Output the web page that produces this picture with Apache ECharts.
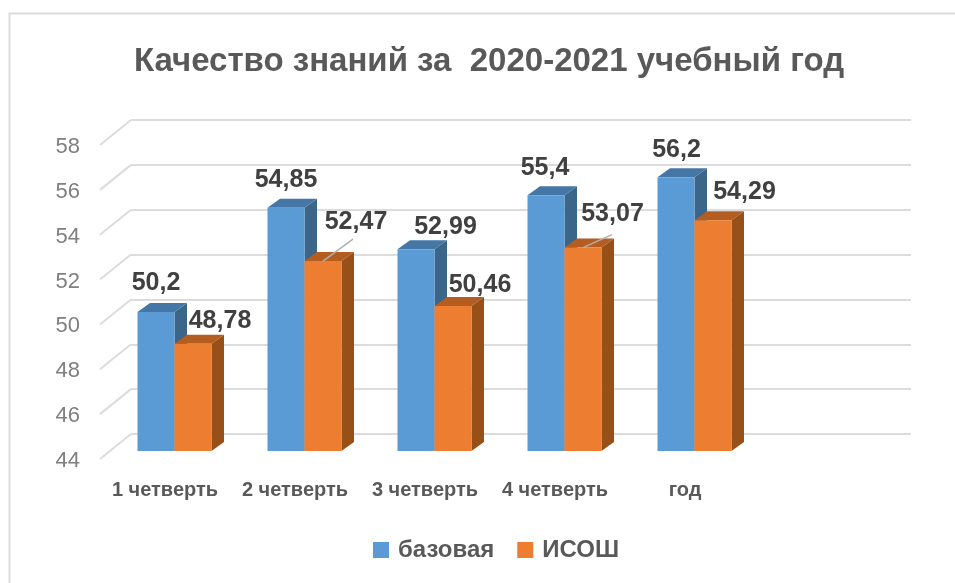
<!DOCTYPE html>
<html>
<head>
<meta charset="utf-8">
<title>Качество знаний</title>
<style>
html, body { margin: 0; padding: 0; background: #fff; }
#chart { width: 955px; height: 583px; }
</style>
<script src="https://cdn.jsdelivr.net/npm/echarts@6/dist/echarts.min.js"></script>
</head>
<body>
<div id="chart"></div>
<script>
var categories = ['1 четверть', '2 четверть', '3 четверть', '4 четверть', 'год', ''];
var baseValues = [50.2, 54.85, 52.99, 55.4, 56.2];
var isoshValues = [48.78, 52.47, 50.46, 53.07, 54.29];
var yTicks = [44, 46, 48, 50, 52, 54, 56, 58];

var FONT = '"Liberation Sans", Arial, sans-serif';
var TEXT_COLOR = '#595959';
var GRID_COLOR = '#dcdcdc';

// сдвиг плоскости столбцов относительно задней стенки
var BAR_SHIFT = [-21.5, 17];
// сдвиг передней плоскости относительно задней стенки
var WALL_SHIFT = [-31, 25];
// глубина столбца
var DEPTH = [12.5, -9];
var BAR_W = 37;

// положение подписей относительно верха столбца
var baseLabelOffset = [[0, -29], [0, -28], [29.5, -22], [-1, -27], [0.5, -27]];
var isoshLabelOffset = [[27, -23], [33, -39], [27, -21], [29.5, -33], [31.5, -28]];
// выноски у двух подписей
var isoshLeaders = { 1: [30, -22], 3: [29, -13] };

function toData(values) {
	var res = [];
	for (var i = 0; i < values.length; i++) {
		res.push([i, values[i]]);
	}
	return res;
}

function barRender(colors, dir, offsets, leaders) {
	return function (params, api) {
		var i = api.value(0);
		var top = api.coord([i, api.value(1)]);
		var bottom = api.coord([i, yTicks[0]]);
		var x0 = top[0] + BAR_SHIFT[0] + (dir < 0 ? -BAR_W : 0);
		var x1 = x0 + BAR_W;
		var y0 = top[1] + BAR_SHIFT[1];
		var y1 = bottom[1] + BAR_SHIFT[1];
		var dx = DEPTH[0], dy = DEPTH[1];
		var cx = (x0 + x1) / 2;
		var children = [
			{ type: 'polygon', shape: { points: [[x1, y0], [x1 + dx, y0 + dy], [x1 + dx, y1 + dy], [x1, y1]] }, style: { fill: colors[2] } },
			{ type: 'polygon', shape: { points: [[x0, y0], [x0 + dx, y0 + dy], [x1 + dx, y0 + dy], [x1, y0]] }, style: { fill: colors[1] } },
			{ type: 'rect', shape: { x: x0, y: y0, width: BAR_W, height: y1 - y0 }, style: { fill: colors[0] } }
		];
		if (leaders && leaders[i]) {
			children.push({
				type: 'line',
				shape: { x1: cx, y1: y0, x2: cx + leaders[i][0], y2: y0 + leaders[i][1] },
				style: { stroke: '#b0b0b0', lineWidth: 1.5 },
				z2: 5
			});
		}
		children.push({
			type: 'text',
			z2: 10,
			style: {
				text: String(api.value(1)).replace('.', ','),
				x: cx + offsets[i][0],
				y: y0 + offsets[i][1],
				align: 'center',
				verticalAlign: 'middle',
				fill: '#404040',
				fontFamily: FONT,
				fontWeight: 'bold',
				fontSize: 25
			}
		});
		return { type: 'group', children: children };
	};
}

// боковые линии пола и стенки
function wallRender(params, api) {
	var x = params.coordSys.x;
	var y = api.coord([0, api.value(1)])[1];
	return {
		type: 'line',
		shape: { x1: x, y1: y, x2: x + WALL_SHIFT[0], y2: y + WALL_SHIFT[1] },
		style: { stroke: GRID_COLOR, lineWidth: 2 }
	};
}

var myChart = echarts.init(document.getElementById('chart'), null, { renderer: 'canvas' });
var option = {
	animation: false,
	backgroundColor: '#ffffff',
	title: {
		text: 'Качество знаний за  2020-2021 учебный год',
		left: 484,
		top: 40,
		textAlign: 'center',
		textStyle: { color: TEXT_COLOR, fontFamily: FONT, fontWeight: 'bold', fontSize: 33 }
	},
	legend: {
		data: ['базовая', 'ИСОШ'],
		left: 368,
		top: 533,
		icon: 'rect',
		itemWidth: 16,
		itemHeight: 16,
		itemGap: 23,
		textStyle: { color: TEXT_COLOR, fontFamily: FONT, fontWeight: 'bold', fontSize: 24, padding: [0, 0, 0, 4] }
	},
	// 0 - задняя стенка со столбцами, 1 - передняя плоскость с подписями осей
	grid: [
		{ left: 131, right: 44, top: 120, bottom: 149 },
		{ left: 100, right: 75, top: 147, bottom: 122 }
	],
	xAxis: [
		{
			type: 'category',
			gridIndex: 0,
			data: categories,
			axisLine: { show: false },
			axisTick: { show: false },
			axisLabel: { show: false }
		},
		{
			type: 'category',
			gridIndex: 1,
			data: categories,
			axisLine: { show: false },
			axisTick: { show: false },
			axisLabel: {
				interval: 0,
				margin: 19,
				color: TEXT_COLOR,
				fontFamily: FONT,
				fontWeight: 'bold',
				fontSize: 20
			}
		}
	],
	yAxis: [
		{
			type: 'value',
			gridIndex: 0,
			min: 44,
			max: 58,
			interval: 2,
			axisLine: { show: false },
			axisTick: { show: false },
			axisLabel: { show: false },
			splitLine: { lineStyle: { color: GRID_COLOR, width: 2 } }
		},
		{
			type: 'value',
			gridIndex: 1,
			min: 44,
			max: 58,
			interval: 2,
			axisLine: { show: false },
			axisTick: { show: false },
			splitLine: { show: false },
			axisLabel: {
				margin: 20,
				color: '#7f7f7f',
				fontFamily: FONT,
				fontSize: 22
			}
		}
	],
	graphic: [
		{ type: 'polyline', silent: true, shape: { points: [[9.5, 583], [9.5, 13.5], [955, 13.5]] }, style: { fill: null, stroke: '#dcdcdc', lineWidth: 2 } }
	],
	series: [
		{
			type: 'custom',
			name: 'стенка',
			data: yTicks.map(function (t) { return [0, t]; }),
			encode: { x: 0, y: 1 },
			silent: true,
			renderItem: wallRender
		},
		{
			type: 'custom',
			name: 'базовая',
			data: toData(baseValues),
			encode: { x: 0, y: 1 },
			itemStyle: { color: '#5b9bd5' },
			renderItem: barRender(['#5b9bd5', '#4477a6', '#3b6689'], -1, baseLabelOffset)
		},
		{
			type: 'custom',
			name: 'ИСОШ',
			data: toData(isoshValues),
			encode: { x: 0, y: 1 },
			itemStyle: { color: '#ed7d31' },
			renderItem: barRender(['#ed7d31', '#b35d20', '#985019'], 1, isoshLabelOffset, isoshLeaders)
		}
	]
};
myChart.setOption(option);
</script>
</body>
</html>
